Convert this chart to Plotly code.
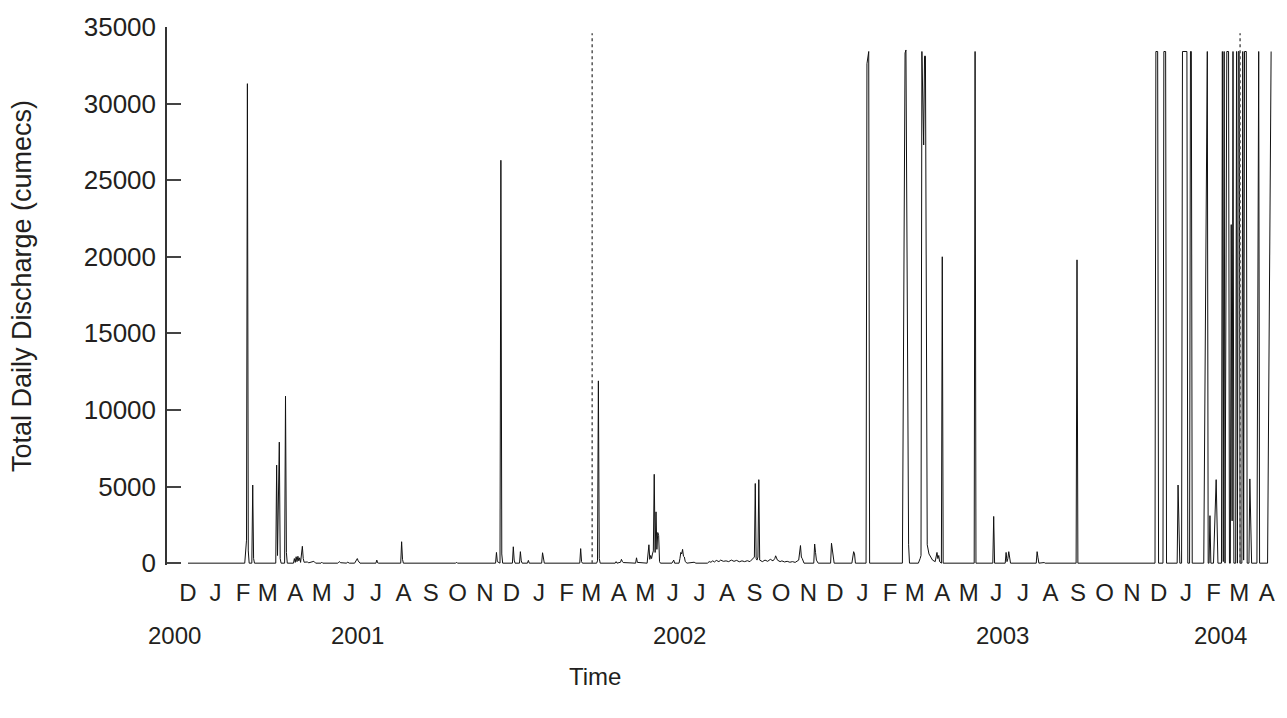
import plotly.graph_objects as go

# ---- data (date, total daily discharge in cumecs) ----
dates_a = ["2000-12-01", "2001-02-03", "2001-02-05", "2001-02-06", "2001-02-07", "2001-02-08",
           "2001-02-11", "2001-02-12", "2001-02-13", "2001-02-14",
           "2001-03-10", "2001-03-11", "2001-03-12", "2001-03-14", "2001-03-15", "2001-03-16",
           "2001-03-20", "2001-03-21", "2001-03-22", "2001-03-23",
           "2001-03-30", "2001-03-31", "2001-04-01", "2001-04-02", "2001-04-03", "2001-04-04",
           "2001-04-05", "2001-04-06", "2001-04-07", "2001-04-09", "2001-04-10", "2001-04-11",
           "2001-04-15", "2001-04-16", "2001-04-22", "2001-04-23", "2001-04-24", "2001-04-30",
           "2001-05-01", "2001-05-02",
           "2001-05-19", "2001-05-20", "2001-05-21", "2001-05-22", "2001-05-29", "2001-05-30",
           "2001-05-31", "2001-06-01",
           "2001-06-07", "2001-06-08", "2001-06-10", "2001-06-11", "2001-06-12", "2001-06-13",
           "2001-07-01", "2001-07-02", "2001-07-03", "2001-07-04",
           "2001-07-29", "2001-07-30", "2001-07-31", "2001-08-01",
           "2001-09-29", "2001-09-30", "2001-10-01"]
q_a = [0, 0, 1500, 31300, 800, 0,
       0, 5100, 300, 0,
       0, 6400, 500, 7900, 300, 0,
       0, 10900, 700, 0,
       0, 300, 50, 420, 100, 450,
       150, 350, 50, 1100, 300, 60,
       80, 20, 120, 20, 0, 0,
       60, 0,
       0, 60, 100, 30, 0, 70,
       30, 0,
       0, 100, 300, 150, 20, 0,
       0, 200, 20, 0,
       0, 1400, 250, 0,
       0, 60, 0]

dates_b = ["2001-11-13", "2001-11-14", "2001-11-15", "2001-11-18", "2001-11-19", "2001-11-20", "2001-11-21",
           "2001-12-02", "2001-12-03", "2001-12-04", "2001-12-05", "2001-12-10", "2001-12-11",
           "2001-12-12", "2001-12-13", "2001-12-19", "2001-12-20", "2001-12-21",
           "2002-01-04", "2002-01-05", "2002-01-06", "2002-01-07", "2002-02-16", "2002-02-17",
           "2002-02-18", "2002-02-19", "2002-03-07", "2002-03-08", "2002-03-09", "2002-03-10",
           "2002-03-11", "2002-03-28", "2002-03-29", "2002-03-30", "2002-04-03", "2002-04-04",
           "2002-04-05", "2002-04-06", "2002-04-20", "2002-04-21", "2002-04-22", "2002-05-03",
           "2002-05-05", "2002-05-06", "2002-05-07", "2002-05-08", "2002-05-09", "2002-05-10",
           "2002-05-11", "2002-05-12", "2002-05-13", "2002-05-14", "2002-05-15", "2002-05-16",
           "2002-05-17", "2002-05-18", "2002-05-31", "2002-06-02", "2002-06-03",
           "2002-06-08", "2002-06-09", "2002-06-10", "2002-06-11", "2002-06-12", "2002-06-13",
           "2002-06-14", "2002-06-15", "2002-06-17", "2002-06-25", "2002-06-27"]
q_b = [0, 700, 100, 0, 26300, 600, 0,
       0, 1070, 200, 0, 0, 750,
       150, 0, 0, 180, 0,
       0, 680, 200, 0, 0, 950,
       100, 0, 0, 150, 11900, 300,
       0, 0, 100, 0, 60, 250,
       120, 40, 0, 350, 50, 0,
       1200, 250, 500, 300, 600, 800,
       5800, 700, 3350, 900, 2000, 1800,
       100, 0, 0, 200, 0,
       0, 300, 700, 600, 900, 450,
       400, 100, 0, 60, 0]

dates_c = ["2002-07-10", "2002-07-12", "2002-07-14", "2002-07-16", "2002-07-18", "2002-07-20",
           "2002-07-23", "2002-07-25", "2002-07-28", "2002-07-31", "2002-08-03", "2002-08-06",
           "2002-08-09", "2002-08-12", "2002-08-15", "2002-08-18", "2002-08-21", "2002-08-24",
           "2002-08-27", "2002-08-30", "2002-09-01", "2002-09-02", "2002-09-03", "2002-09-04",
           "2002-09-05", "2002-09-06", "2002-09-07", "2002-09-10", "2002-09-13", "2002-09-16",
           "2002-09-19", "2002-09-22", "2002-09-24", "2002-09-25", "2002-09-26", "2002-09-27",
           "2002-09-30", "2002-10-02", "2002-10-05", "2002-10-08", "2002-10-11", "2002-10-14",
           "2002-10-17", "2002-10-21", "2002-10-23", "2002-10-24", "2002-10-25", "2002-10-27",
           "2002-11-07", "2002-11-08", "2002-11-09", "2002-11-10", "2002-11-12",
           "2002-11-26", "2002-11-27", "2002-11-28", "2002-11-29", "2002-11-30",
           "2002-12-20", "2002-12-22", "2002-12-23", "2002-12-24"]
q_c = [0, 100, 60, 150, 80, 180,
       100, 200, 120, 150, 100, 200,
       120, 180, 90, 150, 100, 160,
       100, 250, 400, 5200, 300, 200,
       400, 5450, 200, 100, 200, 120,
       250, 150, 300, 480, 350, 200,
       100, 150, 80, 120, 60, 100,
       50, 200, 1150, 400, 300, 0,
       0, 1250, 700, 200, 0,
       0, 1300, 800, 100, 0,
       0, 750, 600, 0]

dates_d = ["2003-01-05", "2003-01-06", "2003-01-08", "2003-01-09",
           "2003-02-15", "2003-02-18", "2003-02-19", "2003-02-22", "2003-02-23",
           "2003-03-05", "2003-03-07", "2003-03-08", "2003-03-09", "2003-03-11", "2003-03-12",
           "2003-03-13", "2003-03-15", "2003-03-17", "2003-03-19", "2003-03-21", "2003-03-24",
           "2003-03-26", "2003-03-27", "2003-03-28", "2003-03-29", "2003-03-31",
           "2003-04-01", "2003-04-02", "2003-05-07", "2003-05-08", "2003-05-09",
           "2003-05-28", "2003-05-29", "2003-05-30", "2003-06-11", "2003-06-12", "2003-06-13",
           "2003-06-14", "2003-06-15", "2003-06-16", "2003-06-17",
           "2003-07-16", "2003-07-17", "2003-07-18", "2003-07-19", "2003-07-25", "2003-07-26",
           "2003-08-30", "2003-08-31", "2003-09-01"]
q_d = [0, 32600, 33400, 0,
       0, 33300, 33500, 1200, 0,
       0, 300, 500, 33400, 27300, 33100,
       33100, 1200, 600, 400, 200, 100,
       700, 300, 500, 100, 0,
       20000, 0, 0, 33400, 0,
       0, 3050, 0, 0, 700, 100,
       300, 750, 200, 0,
       0, 750, 350, 0, 40, 0,
       0, 19800, 0]

dates_e = ["2003-11-27", "2003-11-28", "2003-11-30", "2003-12-01",
           "2003-12-06", "2003-12-07", "2003-12-09", "2003-12-10",
           "2003-12-22", "2003-12-23", "2003-12-25",
           "2003-12-27", "2003-12-28", "2004-01-02", "2004-01-03",
           "2004-01-05", "2004-01-06", "2004-01-07", "2004-01-08",
           "2004-01-21", "2004-01-25", "2004-01-26", "2004-01-27", "2004-01-28", "2004-01-29",
           "2004-02-01", "2004-02-04", "2004-02-06",
           "2004-02-10", "2004-02-11", "2004-02-12", "2004-02-13", "2004-02-14",
           "2004-02-16", "2004-02-18", "2004-02-19", "2004-02-20", "2004-02-21", "2004-02-22",
           "2004-02-23", "2004-02-24", "2004-02-26", "2004-02-27", "2004-02-28", "2004-02-29",
           "2004-03-01", "2004-03-02", "2004-03-04", "2004-03-05", "2004-03-06", "2004-03-07",
           "2004-03-09", "2004-03-10", "2004-03-12", "2004-03-13", "2004-03-15",
           "2004-03-21", "2004-03-23", "2004-03-24", "2004-04-02", "2004-04-05", "2004-04-06"]
q_e = [0, 33400, 33400, 0,
       0, 33400, 33400, 0,
       0, 5100, 0,
       0, 33400, 33400, 0,
       0, 33400, 33400, 0,
       0, 33400, 0, 0, 3100, 0,
       0, 5450, 0,
       0, 33400, 100, 33400, 0,
       33400, 33400, 0, 0, 22100, 2760,
       33400, 0, 0, 33400, 0, 33400,
       33400, 0, 0, 33400, 200, 33400,
       33400, 0, 0, 5500, 0,
       0, 33400, 0, 0, 29500, 33400]

dates = dates_a + dates_b + dates_c + dates_d + dates_e
discharge = q_a + q_b + q_c + q_d + q_e

# month tick labels
month_ticks = ["2000-12-01"] + [f"{y}-{m:02d}-01" for y in (2001, 2002, 2003) for m in range(1, 13)] + \
              [f"2004-{m:02d}-01" for m in range(1, 5)]
month_letters = ["D"] + list("JFMAMJJASOND") * 3 + list("JFMA")

year_labels = ["2000", "2001", "2002", "2003", "2004"]
year_positions = ["2000-11-16", "2001-06-10", "2002-06-09", "2003-06-08", "2004-02-09"]

y_ticks = [0, 5000, 10000, 15000, 20000, 25000, 30000, 35000]

marker_dates = ["2002-03-02", "2004-03-02"]

FONT = "Liberation Sans, Arial, Helvetica, sans-serif"
INK = "#231f20"

fig = go.Figure()
fig.add_trace(go.Scatter(x=dates, y=discharge, mode="lines",
                         line=dict(color="#111111", width=1), hoverinfo="x+y",
                         showlegend=False))

for d in marker_dates:
    fig.add_shape(type="line", xref="x", yref="y", x0=d, x1=d, y0=0, y1=34600,
                  line=dict(color="#555555", width=1.5, dash="dot"))

for lab, pos in zip(year_labels, year_positions):
    fig.add_annotation(x=pos, y=-0.131, xref="x", yref="paper", text=lab, showarrow=False,
                       xanchor="center", yanchor="middle", font=dict(size=24, color=INK, family=FONT))

fig.add_annotation(x=0.387, y=-0.2065, xref="paper", yref="paper", text="Time", showarrow=False,
                   xanchor="center", yanchor="middle", font=dict(size=24, color=INK, family=FONT))
fig.add_annotation(x=-0.131, y=0.519, xref="paper", yref="paper", text="Total Daily Discharge (cumecs)",
                   textangle=-90, showarrow=False, xanchor="center", yanchor="middle",
                   font=dict(size=27, color=INK, family=FONT))

fig.update_layout(
    width=1287, height=718,
    margin=dict(l=167, r=15, t=22, b=153),
    paper_bgcolor="white", plot_bgcolor="white",
    font=dict(family=FONT, size=24, color=INK),
    xaxis=dict(type="date", range=["2000-11-07 07:00", "2004-04-07"],
               tickmode="array", tickvals=month_ticks, ticktext=month_letters,
               showgrid=False, zeroline=False, showline=False, ticks="",
               ticklabelstandoff=11, tickfont=dict(size=24, color=INK, family=FONT)),
    yaxis=dict(range=[-120, 35000], tickmode="array",
               tickvals=y_ticks, ticktext=[str(v) for v in y_ticks],
               showgrid=False, zeroline=False, showline=True, linecolor="#333333", linewidth=1.5,
               ticks="inside", ticklen=14, tickwidth=1.5, tickcolor="#444444",
               ticklabelstandoff=4, tickfont=dict(size=26, color=INK, family=FONT)),
)

fig.write_html("out.html")
